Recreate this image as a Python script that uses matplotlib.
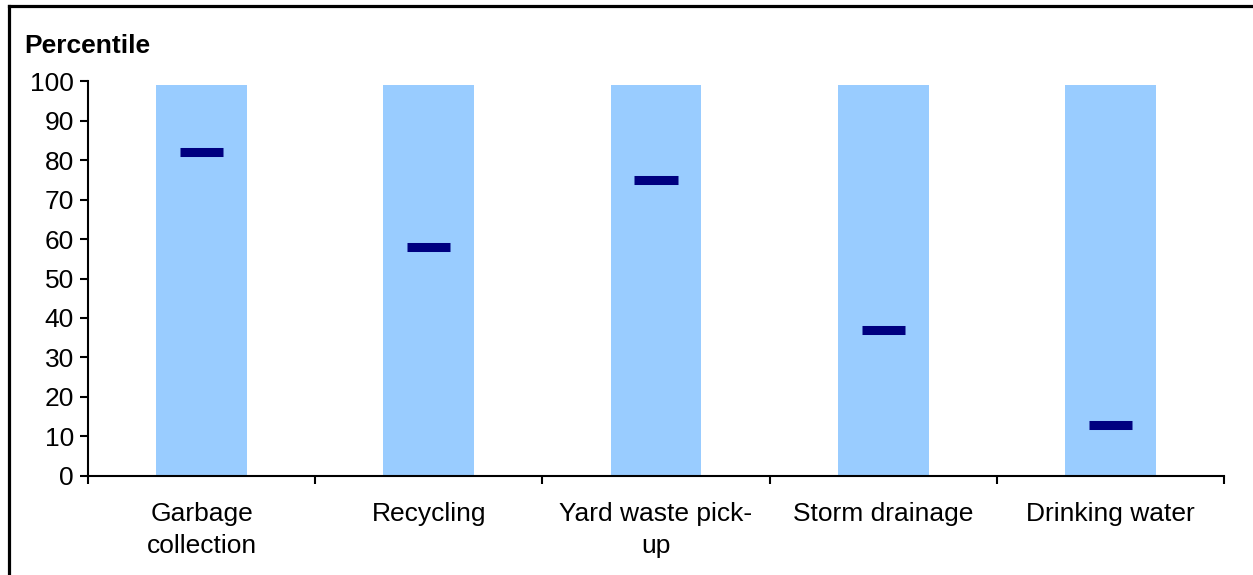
import numpy as np
import matplotlib
matplotlib.use("Agg")
import matplotlib.pyplot as plt
from matplotlib.lines import Line2D

# Data
categories = ["Garbage\ncollection", "Recycling", "Yard waste pick-\nup",
              "Storm drainage", "Drinking water"]
range_top = [99, 99, 99, 99, 99]
percentiles = [82, 58, 75, 37, 13]
yticks = list(range(0, 101, 10))

plt.rcParams["font.family"] = ["Liberation Sans", "DejaVu Sans"]

fig = plt.figure(figsize=(12.53, 5.75), dpi=100)
ax = fig.add_axes([0.0702, 0.1722, 0.9067, 0.6869])

x = np.arange(len(categories))
ax.bar(x, range_top, width=0.4, color="#99CCFF", zorder=1)
ax.hlines(percentiles, x - 0.095, x + 0.095, colors="#000080", linewidth=6.5, zorder=2)

ax.set_xlim(-0.5, len(categories) - 0.5)
ax.set_ylim(0, 100)
ax.set_yticks(yticks)
ax.set_xticks(x)
ax.set_xticklabels(categories, fontsize=19, linespacing=1.4)
ax.set_xticks(np.arange(len(categories) + 1) - 0.5, minor=True)
ax.tick_params(axis="x", which="major", length=0, pad=19)
ax.tick_params(axis="x", which="minor", length=6, width=1.5, direction="out")
ax.tick_params(axis="y", labelsize=19, length=6, width=1.5, direction="out", pad=4)

for side in ["top", "right"]:
    ax.spines[side].set_visible(False)
for side in ["left", "bottom"]:
    ax.spines[side].set_linewidth(1.5)

fig.text(24 / 1253, 1 - 46 / 575, "Percentile", fontsize=19, fontweight="bold",
         ha="left", va="center")

# outer frame (only top and left visible)
x0, y0 = 8.5 / 1253, 1 - 6 / 575
fig.add_artist(Line2D([x0, x0], [0, y0], color="black", linewidth=2.3))
fig.add_artist(Line2D([x0, 1], [y0, y0], color="black", linewidth=2.3))

fig.savefig("out.png", dpi=100)
